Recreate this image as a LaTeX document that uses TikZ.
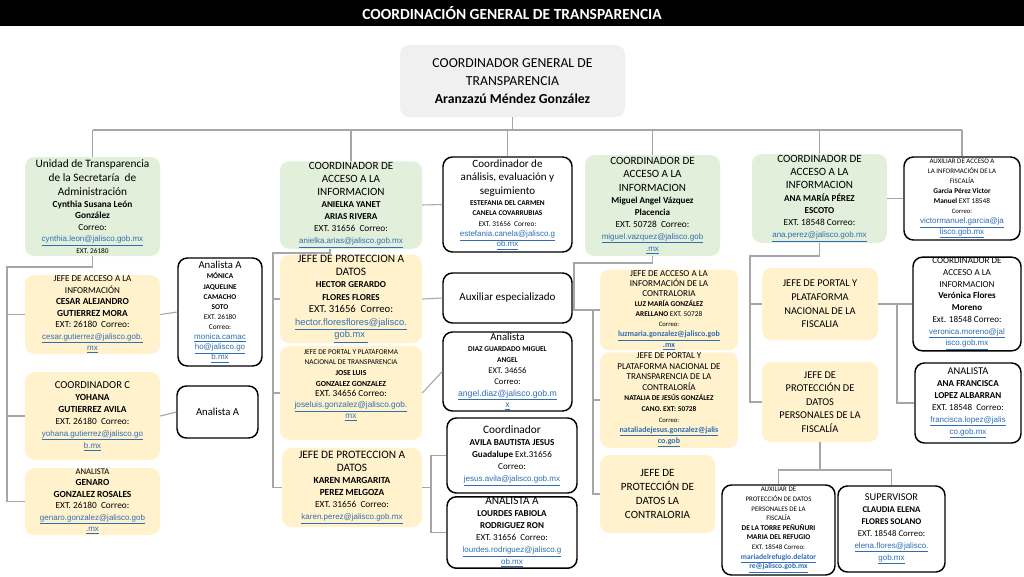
\documentclass[tikz,border=0pt]{standalone}
\usepackage{fontspec}
\setmainfont{Carlito}
\newfontfamily\lfont{Liberation Sans}
\definecolor{grn}{HTML}{E2EFDA}
\definecolor{yel}{HTML}{FFF2CC}
\definecolor{gry}{HTML}{F0F0F0}
\definecolor{lnk}{HTML}{2F6DB5}
\definecolor{linec}{HTML}{A6A6A6}
\newcommand\fz[1]{\fontsize{#1}{#1}\selectfont}
\newcommand\ml[1]{{\lfont\color{lnk}\underline{#1}}}
\newcommand\mb[1]{{\bfseries\color{lnk}\underline{#1}}}
\newcommand\bx[7]{\node[#2, minimum width={(#5-#3)*0.75pt}, minimum height={(#6-#4)*0.75pt}] (#1) at ({(#3+#5)/2},{(#4+#6)/2}) {#7};}
\tikzset{
  ls/.style={font=\fontsize{6}{#1}\selectfont},
  base/.style={align=center, inner sep=0.5pt, rounded corners=7pt},
  grn/.style={base, fill=grn},
  yel/.style={base, fill=yel},
  gry/.style={base, fill=gry},
  wht/.style={base, fill=white, draw=black, line width=1.1pt},
  conn/.style={draw=linec, line width=0.8pt},
}
\begin{document}
\begin{tikzpicture}[x=0.75pt,y=-0.75pt]
\useasboundingbox (0,0) rectangle (1024,576);
\fill[black] (0,0) rectangle (1024,26);
\node[text=white, font=\bfseries\fz{11.6}] (hdr) at (512,13) {COORDINACIÓN GENERAL DE TRANSPARENCIA};

\bx{main}{gry,ls=13.5}{400}{45}{625}{117}{{\fz{10.3}COORDINADOR GENERAL DE}\\{\fz{10.3}TRANSPARENCIA}\\{\fz{10.3}\bfseries Aranzazú Méndez González}}

% column 1
\bx{n1}{grn,ls=8.6}{25}{157}{160}{256}{{\fz{8.5}Unidad de Transparencia}\\[1.8pt]{\fz{8.5}de la Secretaría~ de}\\[1.8pt]{\fz{8.5}Administración}\\[0.5pt]{\fz{7}\bfseries Cynthia Susana León}\\{\fz{7}\bfseries González}\\{\fz{7}Correo:}\\{\fz{6}\ml{cynthia.leon@jalisco.gob.mx}}\\{\fz{5.5}EXT. 26180}}
\bx{n2}{yel,ls=8.6}{25}{277}{160}{352}{{\fz{6.8}JEFE DE ACCESO A LA}\\{\fz{6.8}INFORMACIÓN}\\{\fz{7}\bfseries CESAR ALEJANDRO}\\{\fz{7}\bfseries GUTIERREZ MORA}\\{\fz{7}EXT: 26180~~Correo:}\\{\fz{6}\ml{cesar.gutierrez@jalisco.gob.}}\\{\fz{6}\ml{mx}}}
\bx{n3}{yel,ls=9}{25}{372}{160}{460}{{\fz{8}COORDINADOR C}\\{\fz{7}\bfseries YOHANA}\\{\fz{7}\bfseries GUTIERREZ AVILA}\\{\fz{7}EXT. 26180~~Correo:}\\{\fz{6}\ml{yohana.gutierrez@jalisco.go}}\\{\fz{6}\ml{b.mx}}}
\bx{n4}{yel,ls=8.6}{25}{468}{160}{535}{{\fz{6.5}ANALISTA}\\{\fz{7}\bfseries GENARO}\\{\fz{7}\bfseries GONZALEZ ROSALES}\\{\fz{7}EXT. 26180~~Correo:}\\{\fz{6}\ml{genaro.gonzalez@jalisco.gob}}\\{\fz{6}\ml{.mx}}}

% column 2
\bx{a1}{wht,ls=7.6}{178}{258}{262}{366}{{\fz{8}Analista A}\\{\fz{5.5}\bfseries MÓNICA}\\{\fz{5.5}\bfseries JAQUELINE}\\{\fz{5.5}\bfseries CAMACHO}\\{\fz{5.5}\bfseries SOTO}\\{\fz{5.5}EXT. 26180}\\{\fz{5.5}Correo:}\\{\fz{6}\ml{monica.camac}}\\{\fz{6}\ml{ho@jalisco.go}}\\{\fz{6}\ml{b.mx}}}
\bx{a2}{wht,ls=9}{177}{386}{258}{438}{{\fz{8}Analista A}}

% column 3
\bx{c1}{grn,ls=9}{280}{162}{422}{248}{{\fz{8.3}COORDINADOR DE}\\[1pt]{\fz{8.3}ACCESO A LA}\\[1pt]{\fz{8.3}INFORMACION}\\{\fz{6.8}\bfseries ANIELKA YANET}\\{\fz{6.8}\bfseries ARIAS RIVERA}\\{\fz{7}EXT. 31656~~Correo:}\\{\fz{6}\ml{anielka.arias@jalisco.gob.mx}}}
\bx{c2}{yel,ls=9.4}{280}{258}{422}{340}{{\fz{8.5}JEFE DE PROTECCION A}\\{\fz{8.5}DATOS}\\{\fz{6.8}\bfseries HECTOR GERARDO}\\{\fz{6.8}\bfseries FLORES FLORES}\\{\fz{8}EXT. 31656~~Correo:}\\{\fz{7}\ml{hector.floresflores@jalisco.}}\\{\fz{7}\ml{gob.mx~}}}
\bx{c3}{yel,ls=8}{280}{346}{422}{440}{{\fz{5.5}JEFE DE PORTAL Y PLATAFORMA}\\{\fz{5.5}NACIONAL DE TRANSPARENCIA}\\{\fz{5.8}\bfseries JOSE LUIS}\\{\fz{5.8}\bfseries GONZALEZ GONZALEZ}\\{\fz{7}EXT. 34656 Correo:}\\{\fz{6.2}\ml{joseluis.gonzalez@jalisco.gob.}}\\{\fz{6.2}\ml{mx}}\\[6pt]}
\bx{c4}{yel,ls=9}{282}{448}{422}{527}{{\fz{8.5}JEFE DE PROTECCION A}\\[1pt]{\fz{8.5}DATOS}\\{\fz{7}\bfseries KAREN MARGARITA}\\{\fz{7}\bfseries PEREZ MELGOZA}\\{\fz{7}EXT. 31656~~Correo:}\\{\fz{6}\ml{karen.perez@jalisco.gob.mx}}}

% column 4
\bx{d1}{wht,ls=7.8}{443}{157}{572}{252}{{\fz{8.3}Coordinador de}\\[2.4pt]{\fz{8.3}análisis, evaluación y}\\[2.4pt]{\fz{8.3}seguimiento}\\[0.5pt]{\fz{5.5}\bfseries ESTEFANIA DEL CARMEN}\\{\fz{5.5}\bfseries CANELA COVARRUBIAS}\\{\fz{5.5}EXT. 31656~~Correo:}\\{\fz{6}\ml{estefania.canela@jalisco.g}}\\{\fz{6}\ml{ob.mx}}}
\bx{d2}{wht,ls=9}{443}{273}{572}{323}{{\fz{8.3}Auxiliar especializado}}
\bx{d3}{wht,ls=8.3}{443}{332}{572}{411}{{\fz{8}Analista}\\{\fz{5.5}\bfseries DIAZ GUARDADO MIGUEL}\\{\fz{5.5}\bfseries ANGEL}\\{\fz{6.5}EXT. 34656}\\{\fz{6.5}Correo:}\\{\fz{6.5}\ml{angel.diaz@jalisco.gob.m}}\\{\fz{6.5}\ml{x}}}
\bx{d4}{wht,ls=9}{447}{418}{577}{493}{{\fz{8.5}Coordinador}\\{\fz{6.8}\bfseries AVILA BAUTISTA JESUS}\\{\fz{6.8}{\bfseries Guadalupe} Ext.31656}\\{\fz{6.8}Correo:}\\{\fz{6}\ml{jesus.avila@jalisco.gob.mx}}}
\bx{d5}{wht,ls=9}{447}{497}{577}{568}{{\fz{8.5}ANALISTA A}\\{\fz{6.8}\bfseries LOURDES FABIOLA}\\{\fz{6.8}\bfseries RODRIGUEZ RON}\\{\fz{6.8}EXT. 31656~~Correo:}\\{\fz{6}\ml{lourdes.rodriguez@jalisco.g}}\\{\fz{6}\ml{ob.mx}}}

% column 5
\bx{e1}{grn,ls=9}{585}{155}{720}{256}{{\fz{8.3}COORDINADOR DE}\\[1pt]{\fz{8.3}ACCESO A LA}\\[1pt]{\fz{8.3}INFORMACION}\\{\fz{6.8}\bfseries Miguel Angel Vázquez}\\{\fz{6.8}\bfseries Placencia}\\{\fz{7}EXT. 50728~~Correo:}\\{\fz{6}\ml{miguel.vazquez@jalisco.gob}}\\{\fz{6}\ml{.mx}}}
\bx{e2}{yel,ls=7.6}{600}{270}{738}{350}{{\fz{6.8}JEFE DE ACCESO A LA}\\{\fz{6.8}INFORMACIÓN DE LA}\\{\fz{6.8}CONTRALORIA}\\{\fz{5.5}\bfseries LUZ MARÍA GONZÁLEZ}\\{\fz{5.5}{\bfseries ARELLANO} EXT. 50728}\\{\fz{5}Correo:}\\{\fz{6}\mb{luzmaria.gonzalez@jalisco.gob}}\\{\fz{6}\mb{.mx}}}
\bx{e3}{yel,ls=7.9}{600}{355}{738}{445}{{\fz{6.8}JEFE DE PORTAL Y}\\{\fz{6.8}PLATAFORMA NACIONAL DE}\\{\fz{6.8}TRANSPARENCIA DE LA}\\{\fz{6.8}CONTRALORÍA}\\{\fz{5.5}\bfseries NATALIA DE JESÚS GONZÁLEZ}\\{\fz{5.5}\bfseries CANO. EXT: 50728}\\{\fz{5}Correo:}\\{\fz{6}\mb{nataliadejesus.gonzalez@jalis}}\\{\fz{6}\mb{co.gob}}}
\bx{e4}{yel,ls=10.5}{600}{455}{715}{533}{{\fz{8.3}JEFE DE}\\{\fz{8.3}PROTECCIÓN DE}\\{\fz{8.3}DATOS LA}\\{\fz{8.3}CONTRALORIA}}

% column 6
\bx{f1}{grn,ls=9.2}{752}{155}{887}{242}{{\fz{8.3}COORDINADOR DE}\\[0.8pt]{\fz{8.3}ACCESO A LA}\\[0.8pt]{\fz{8.3}INFORMACION}\\{\fz{6.8}\bfseries ANA MARÍA PÉREZ}\\{\fz{6.8}\bfseries ESCOTO}\\{\fz{7}EXT. 18548 Correo:}\\{\fz{6}\ml{ana.perez@jalisco.gob.mx}}}
\bx{f2}{yel,ls=10.2}{762}{268}{878}{340}{{\fz{7.8}JEFE DE PORTAL Y}\\{\fz{7.8}PLATAFORMA}\\{\fz{7.8}NACIONAL DE LA}\\{\fz{7.8}FISCALIA}}
\bx{f3}{yel,ls=10.2}{762}{362}{878}{442}{{\fz{7.8}JEFE DE}\\{\fz{7.8}PROTECCIÓN DE}\\{\fz{7.8}DATOS}\\{\fz{7.8}PERSONALES DE LA}\\{\fz{7.8}FISCALÍA}}
\bx{f4}{wht,ls=7.2}{722}{485}{835}{575}{{\fz{5.2}AUXILIAR DE}\\{\fz{5.2}PROTECCIÓN DE DATOS}\\{\fz{5.2}PERSONALES DE LA}\\{\fz{5.2}FISCALÍA}\\{\fz{5.5}\bfseries DE LA TORRE PEÑUÑURI}\\{\fz{5.5}\bfseries MARIA DEL REFUGIO}\\{\fz{5.2}EXT. 18548 Correo:}\\{\fz{5.7}\mb{mariadelrefugio.delator}}\\{\fz{5.7}\mb{re@jalisco.gob.mx}}}
\bx{f5}{wht,ls=9}{838}{486}{945}{572}{{\fz{7.8}SUPERVISOR}\\{\fz{6.6}\bfseries CLAUDIA ELENA}\\{\fz{6.6}\bfseries FLORES SOLANO}\\{\fz{6.6}EXT. 18548 Correo:}\\{\fz{6}\ml{elena.flores@jalisco.}}\\{\fz{6}\ml{gob.mx}}}

% column 7
\bx{g1}{wht,ls=7.6}{904}{157}{1020}{240}{{\fz{5.2}AUXILIAR DE ACCESO A}\\{\fz{5.2}LA INFORMACIÓN DE LA}\\{\fz{5.2}FISCALÍA}\\{\fz{5.5}\bfseries Garcia Pérez Victor}\\{\fz{5.5}{\bfseries Manuel} EXT 18548}\\{\fz{5}Correo:}\\{\fz{6}\ml{victormanuel.garcia@ja}}\\{\fz{6}\ml{lisco.gob.mx}}}
\bx{g2}{wht,ls=8.8}{913}{258}{1021}{350}{{\fz{6.8}COORDINADOR DE}\\{\fz{6.8}ACCESO A LA}\\{\fz{6.8}INFORMACION}\\{\fz{6.8}\bfseries Verónica Flores}\\{\fz{6.8}\bfseries Moreno}\\{\fz{6.8}Ext. 18548 Correo:}\\{\fz{6}\ml{veronica.moreno@jal}}\\{\fz{6}\ml{isco.gob.mx}}}
\bx{g3}{wht,ls=9}{915}{363}{1021}{443}{{\fz{7.8}ANALISTA}\\{\fz{6.8}\bfseries ANA FRANCISCA}\\{\fz{6.8}\bfseries LOPEZ ALBARRAN}\\{\fz{6.8}EXT. 18548~~Correo:}\\{\fz{6}\ml{francisca.lopez@jalis}}\\{\fz{6}\ml{co.gob.mx}}}

% connectors: top bus
\coordinate (busL) at (90,130);
\coordinate (busR) at (962,130);
\draw[conn] (main.south) -- (main.south |- busL);
\draw[conn] (n1.north |- busL) -- (g1.north |- busL);
\foreach \nn in {n1,c1,d1,e1,f1,g1} {\draw[conn] (\nn.north) -- (\nn.north |- busL);}

% column 1
\coordinate (s1) at (7,267);
\draw[conn] (n1.south) |- (s1) -- (s1 |- n4.west) -- (n4.west);
\draw[conn] (n2.west -| s1) -- (n2.west);
\draw[conn] (n3.west -| s1) -- (n3.west);
\draw[conn] (n2.east) -- (a1.west);
\draw[conn] (n3.east) -- (a2.west);

% column 3
\coordinate (s3) at (273,253);
\draw[conn] ([xshift=-15.75pt]c1.south) |- (s3) -- (s3 |- c4.west) -- (c4.west);
\draw[conn] (c2.west -| s3) -- (c2.west);
\draw[conn] (c3.west -| s3) -- (c3.west);
\draw[conn] (c1.east) -- (d1.west);
\draw[conn] (c2.east) -- (d2.west);
\draw[conn] (c3.east) -- (d3.west);
\coordinate (s4) at (431,0);
\draw[conn] (c4.east) -- (c4.east -| s4);
\draw[conn] (d4.west) -- (d4.west -| s4) -- (d5.west -| s4) -- (d5.west);

% column 5
\coordinate (s5a) at (574,263);
\coordinate (s5) at (593,0);
\draw[conn] (e1.south) |- (s5a) |- (e2.west);
\draw[conn] (e2.west -| s5) |- (e4.west);
\draw[conn] (e3.west -| s5) -- (e3.west);

% column 6
\coordinate (s6) at (750,256);
\draw[conn] (f1.south) |- (s6) |- (f3.west);
\draw[conn] (f2.west -| s6) -- (f2.west);
\draw[conn] (f1.east) -- (g1.west);
\coordinate (s7) at (897,0);
\draw[conn] (f2.east) -- (g2.west);
\draw[conn] (g2.west -| s7) |- (g3.west);
\coordinate (s8) at (0,470);
\draw[conn] (f3.south) -- (f3.south |- s8);
\draw[conn] (f4.north) |- (f5.north |- s8) -- (f5.north);
\end{tikzpicture}
\end{document}
